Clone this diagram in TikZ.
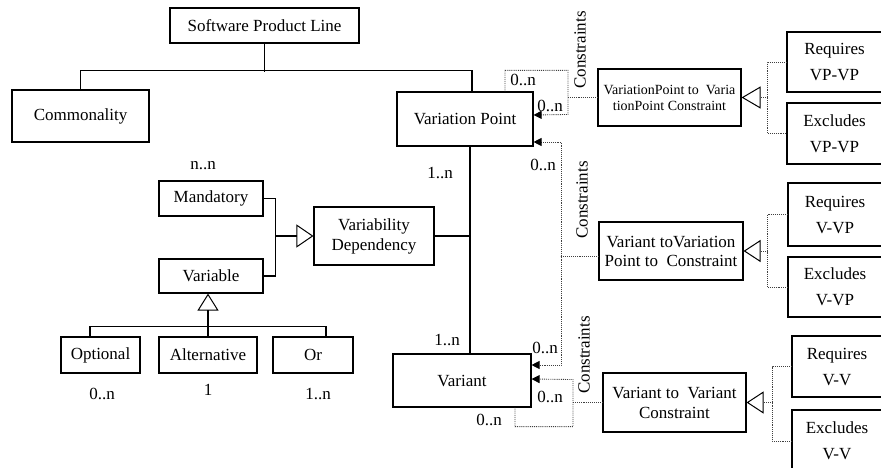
\documentclass[tikz,border=0pt]{standalone}
\usepackage{fontspec}
\setmainfont{Liberation Serif}
\usetikzlibrary{arrows.meta}
\begin{document}
\begin{tikzpicture}[x=1pt,y=-1pt,
  font=\fontsize{17}{20}\selectfont,
  box/.style={draw, line width=1.1pt, inner sep=0pt, align=center},
  ln/.style={line width=1.1pt},
  dl/.style={densely dotted, line width=0.9pt, black!75},
  lab/.style={inner sep=0pt},
  ftip/.style={-{Triangle[length=8pt,width=8pt,color=black]}},
  btip/.style={{Triangle[length=8pt,width=8pt,color=black]}-{Triangle[length=8pt,width=8pt,color=black]}},
  otri/.style={-{Triangle[open,length=#1,width=22pt,line width=1pt,color=black,fill=white]}}
]
\path[use as bounding box] (0,0) rectangle (881,468);
\clip (0,0) rectangle (881,468);

% main boxes
\node[box, minimum width=189pt, minimum height=35pt] (spl) at (264.5,25.5) {Software Product Line};
\node[box, minimum width=137pt, minimum height=52pt] (comm) at (80.5,116) {Commonality};
\node[box, minimum width=136pt, minimum height=54pt] (vp) at (465,119) {Variation Point};
\node[box, minimum width=104pt, minimum height=35pt] (mand) at (211,198.5) {Mandatory};
\node[box, minimum width=104pt, minimum height=34pt] (varbl) at (211,276) {Variable};
\node[box, minimum width=120pt, minimum height=58pt] (vd) at (374,236) {Variability\\Dependency};
\node[box, minimum width=79pt, minimum height=36pt] (opt) at (100.5,355) {Optional};
\node[box, minimum width=98pt, minimum height=36pt] (alt) at (208,355) {Alternative};
\node[box, minimum width=80pt, minimum height=36pt] (orn) at (313,355) {Or};
\node[box, minimum width=138pt, minimum height=53pt] (vnt) at (462,380.5) {Variant};

% constraint boxes
\node[box, minimum width=143pt, minimum height=57pt, font=\fontsize{14}{16}\selectfont] (vpc) at (669.5,97.5) {VariationPoint to\ \ Varia\\tionPoint Constraint};
\node[box, minimum width=144pt, minimum height=58pt, font=\fontsize{17}{19}\selectfont] (vvpc) at (671,251) {Variant toVariation\\Point to\ \ Constraint};
\node[box, minimum width=143pt, minimum height=59pt, font=\fontsize{17}{20}\selectfont] (vvc) at (674.5,402.5) {Variant to\ \ Variant\\Constraint};

% requires / excludes boxes (cut at right edge)
\node[box, minimum width=95pt, minimum height=60pt, font=\fontsize{17}{26}\selectfont] (rvpvp) at (834.5,62) {Requires\\VP-VP};
\node[box, minimum width=95pt, minimum height=61pt, font=\fontsize{17}{26}\selectfont] (evpvp) at (834.5,133.5) {Excludes\\VP-VP};
\node[box, minimum width=94pt, minimum height=63pt, font=\fontsize{17}{26}\selectfont] (rvvp) at (835,214.5) {Requires\\V-VP};
\node[box, minimum width=94pt, minimum height=60pt, font=\fontsize{17}{26}\selectfont] (evvp) at (835,287) {Excludes\\V-VP};
\node[box, minimum width=90pt, minimum height=61pt, font=\fontsize{17}{26}\selectfont] (rvv) at (837,366.5) {Requires\\V-V};
\node[box, minimum width=90pt, minimum height=62pt, font=\fontsize{17}{26}\selectfont] (evv) at (837,441) {Excludes\\V-V};

% tree connectors
\draw[ln] (spl.south) -- ++(0,28);
\draw[ln] (comm.north) -- ++(0,-19) -- ++(391.5,0) -- ([xshift=7pt]vp.north);
\coordinate (vline) at ([xshift=5pt]vp.south);
\draw[ln] (vline) -- ([xshift=8pt]vnt.north);
\draw[ln] (vd.east) -- (vd.east -| vline);
\draw[ln] (mand.east) -- ++(12,0) |- (varbl.east);
\draw[ln,-{Triangle[open,length=17pt,width=23pt,line width=1pt]}] ([xshift=12pt]mand.east |- vd.west) -- (vd.west);
\draw[ln,-{Triangle[open,length=17pt,width=21pt,line width=1pt]}] (alt.north) -- (alt.north |- varbl.south);
\draw[ln] ([xshift=-10.5pt]opt.north) -- ++(0,-10) -| ([xshift=13pt]orn.north);

% dotted constraint links
\draw[dl,ftip] ([xshift=40pt]vp.north) -- ++(0,-21) -- ++(63,0) -- ++(0,44) -- ([yshift=4pt]vp.east);
\draw[dl] (vpc.west) -- ++(-30,0);
\draw[dl,btip] ([yshift=-23pt]vp.east) -- ++(28,0) -- ++(0,223) -- ([yshift=15.5pt]vnt.east);
\draw[dl] ([yshift=-5pt]vvpc.west) -- ++(-38,0);
\draw[dl,ftip] ([xshift=53pt]vnt.south) -- ++(0,19) -- ++(58,0) -- ++(0,-47) -- ([yshift=1.5pt]vnt.east);
\draw[dl] (vvc.west) -- ++(-30,0);

% specialisation triangles
\draw[dl] (rvpvp.west) -- ++(-19,0) |- (evpvp.west);
\draw[dl,otri=19pt] ([xshift=-19pt]rvpvp.west |- vpc.east) -- (vpc.east);
\draw[dl] (rvvp.west) -- ++(-20,0) |- (evvp.west);
\draw[dl,otri=17pt] ([xshift=-20pt]rvvp.west |- vvpc.east) -- (vvpc.east);
\draw[dl] (rvv.west) -- ++(-19,0) |- (evv.west);
\draw[dl,otri=17pt] ([xshift=-19pt]rvv.west |- vvc.east) -- (vvc.east);

% multiplicities
\node[lab] (m1) at (523,80) {0..n};
\node[lab] (m2) at (550,106) {0..n};
\node[lab] (m3) at (543,165) {0..n};
\node[lab] (m4) at (545,348) {0..n};
\node[lab] (m5) at (550,397) {0..n};
\node[lab] (m6) at (489,420) {0..n};
\node[lab] (m7) at (447,340) {1..n};
\node[lab] (m8) at (440,173) {1..n};
\node[lab] (m9) at (203,166) {n..n};
\node[lab] (m10) at (102,394) {0..n};
\node[lab] (m11) at (208,390) {1};
\node[lab] (m12) at (318,394) {1..n};

% constraint labels
\node[lab, rotate=90] (k1) at (580,50) {Constraints};
\node[lab, rotate=90] (k2) at (582,200) {Constraints};
\node[lab, rotate=90] (k3) at (584,355) {Constraints};
\end{tikzpicture}
\end{document}
